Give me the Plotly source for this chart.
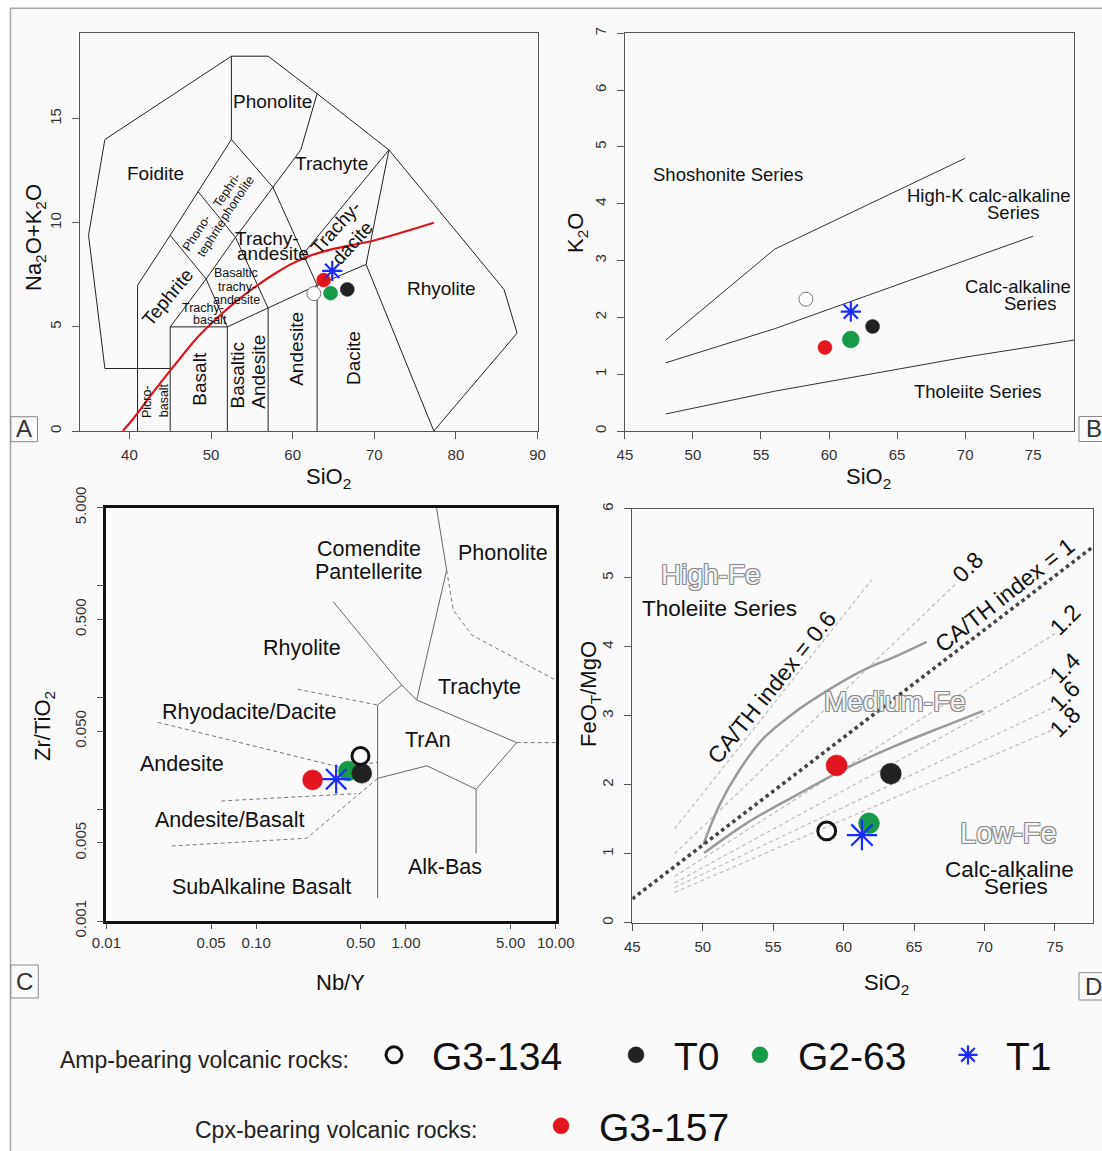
import numpy as np
import plotly.graph_objects as go

W, H = 1102, 1151
FONT = "Liberation Sans, Arial, Helvetica, sans-serif"

# ---------------- sample data ----------------
samples = ["G3-134", "T0", "G2-63", "T1", "G3-157"]
# A: TAS
tas_sio2 = [62.6, 66.7, 64.65, 64.85, 63.8]
tas_alk = [6.6, 6.8, 6.62, 7.69, 7.25]
# B: K2O vs SiO2
k2o_sio2 = [58.3, 63.2, 61.6, 61.6, 59.7]
k2o = [2.32, 1.84, 1.61, 2.10, 1.47]
# C: Zr/TiO2 vs Nb/Y
nb_y = [0.497, 0.507, 0.412, 0.342, 0.238]
zr_tio2 = [0.030, 0.0210, 0.0220, 0.0186, 0.0183]
# D: FeOT/MgO vs SiO2
fm_sio2 = [58.8, 63.35, 61.8, 61.3, 59.5]
feot_mgo = [1.33, 2.16, 1.44, 1.27, 2.28]

# ---------------- diagram boundaries ----------------
tas_lines = [
    [(45, 3), (37, 3), (35, 9.4), (37, 14), (52.5, 18), (57, 18), (63, 16.2), (71.8, 13.5),
     (85.9, 6.8), (87.5, 4.7), (77.3, 0)],
    [(41, 0), (41, 7), (45, 9.4), (48.4, 11.5), (52.5, 14), (52.5, 18)],
    [(45, 0), (45, 5), (52, 5), (52, 0)],
    [(52, 5), (57, 5.9), (63, 7), (69, 8), (77.3, 0)],
    [(57, 0), (57, 5.9)],
    [(63, 0), (63, 7)],
    [(45, 5), (49.4, 7.3), (53, 9.3), (57.6, 11.7), (61, 13.5), (63, 16.2)],
    [(45, 9.4), (49.4, 7.3), (52, 5)],
    [(48.4, 11.5), (53, 9.3), (57, 5.9)],
    [(52.5, 14), (57.6, 11.7), (63, 7)],
    [(69, 8), (71.8, 13.5)],
    [(61.3, 8.5), (71.8, 13.5)],
]
ib_sio2 = [39.2, 40.5, 43, 45, 48, 50, 53, 55.5, 58, 60, 62, 65, 70, 77.3]
ib_alk = [0, 0.6, 1.9, 2.9, 4.35, 5.15, 6.2, 6.95, 7.6, 8.05, 8.4, 8.75, 9.15, 10.0]

k_lines = [
    [(48, 1.6), (56, 3.2), (70, 4.8)],
    [(48, 1.2), (56, 1.8), (63, 2.4), (70, 3.0), (75, 3.43)],
    [(48, 0.3), (56, 0.7), (63, 1.0), (70, 1.3), (78, 1.6)],
]

wf_solid = [
    [(1.60, 5.0), (1.87, 1.38), (1.18, 0.095), (5.49, 0.0395), (2.94, 0.0151), (1.38, 0.0245), (0.647, 0.0189)],
    [(0.327, 0.721), (0.938, 0.129), (1.18, 0.095)],
    [(0.938, 0.129), (0.647, 0.0857), (0.647, 0.0016)],
    [(2.94, 0.0151), (2.94, 0.00404)],
]
wf_dashed = [
    [(0.0220, 0.060), (0.353, 0.0240), (0.647, 0.0263)],
    [(0.189, 0.1186), (0.647, 0.0857)],
    [(0.0585, 0.01186), (0.465, 0.0138)],
    [(0.647, 0.0189), (0.217, 0.0055), (0.0270, 0.00469)],
    [(1.87, 1.38), (2.07, 0.607), (2.75, 0.363), (10, 0.143)],
    [(5.49, 0.0395), (10, 0.0395)],
]

cath1 = [(45, 0.345), (78.1, 5.51)]
cath_other = [
    [(48, 1.36), (62, 4.97)],
    [(48, 1.0), (68, 4.92)],
    [(48, 0.67), (75, 4.19)],
    [(48, 0.575), (75, 3.59)],
    [(48, 0.51), (75, 3.13)],
    [(48, 0.44), (75, 2.81)],
]
medfe_up_x = [50.04, 51.2, 52.6, 54.3, 56.4, 58.5, 61.4, 63.7, 65.9]
medfe_up_y = [1.13, 1.71, 2.21, 2.67, 3.03, 3.32, 3.66, 3.86, 4.07]
medfe_lo_x = [50.1, 53.1, 56.65, 60.2, 63.75, 67.3, 69.9]
medfe_lo_y = [1.01, 1.44, 1.85, 2.24, 2.57, 2.86, 3.07]


def fx(p):
    return p / W


def fy(p):
    return 1 - p / H


def flat(lines):
    xs, ys = [], []
    for ln in lines:
        for a, b in ln:
            xs.append(a)
            ys.append(b)
        xs.append(None)
        ys.append(None)
    return xs, ys


fig = go.Figure()


def add_lines(lines, xa, ya, color, width, dash="solid"):
    xs, ys = flat(lines)
    fig.add_trace(go.Scatter(x=xs, y=ys, mode="lines", xaxis=xa, yaxis=ya,
                             line=dict(color=color, width=width, dash=dash),
                             showlegend=False, hoverinfo="skip"))


# panel A boundaries
add_lines(tas_lines, "x", "y", "#222", 1)
fig.add_trace(go.Scatter(x=ib_sio2, y=ib_alk, mode="lines", xaxis="x", yaxis="y",
                         line=dict(color="#e0141e", width=2.2, shape="spline", smoothing=0.6),
                         showlegend=False, hoverinfo="skip"))
# panel B
add_lines(k_lines, "x2", "y2", "#333", 1)
# panel C
add_lines(wf_solid, "x3", "y3", "#666", 1)
add_lines(wf_dashed, "x3", "y3", "#777", 1, "4px,3px")
# panel D
add_lines(cath_other, "x4", "y4", "#bdbdbd", 1.2, "4px,3px")
fig.add_trace(go.Scatter(x=medfe_up_x, y=medfe_up_y, mode="lines", xaxis="x4", yaxis="y4",
                         line=dict(color="#9a9a9a", width=2.5, shape="spline"),
                         showlegend=False, hoverinfo="skip"))
fig.add_trace(go.Scatter(x=medfe_lo_x, y=medfe_lo_y, mode="lines", xaxis="x4", yaxis="y4",
                         line=dict(color="#9a9a9a", width=2.5, shape="spline"),
                         showlegend=False, hoverinfo="skip"))
add_lines([cath1], "x4", "y4", "#444", 3.5, "dot")

# ---------------- sample markers ----------------
colors = {"G3-134": "white", "T0": "#222222", "G2-63": "#17994a", "T1": "#1a2cff", "G3-157": "#e3161f"}
legend_of = {"G3-134": "legend", "T0": "legend2", "G2-63": "legend3", "T1": "legend4", "G3-157": "legend5"}


def marker_for(name, size, panel):
    if name == "T1":
        return dict(symbol="asterisk-open", size=size * 1.2, color=colors[name],
                    line=dict(color=colors[name], width=2.2))
    if name == "G3-134":
        if panel in ("A", "B"):
            return dict(symbol="circle", size=size, color="white", line=dict(color="#777", width=1))
        return dict(symbol="circle-open", size=size * 0.85, color="#111", line=dict(color="#111", width=3))
    return dict(symbol="circle", size=size, color=colors[name], line=dict(color=colors[name], width=0.5))


panels = [
    ("A", "x", "y", tas_sio2, tas_alk, 14, ["G3-134", "G2-63", "T0", "G3-157", "T1"]),
    ("B", "x2", "y2", k2o_sio2, k2o, 14, ["G3-134", "T0", "G2-63", "T1", "G3-157"]),
    ("C", "x3", "y3", nb_y, zr_tio2, 20, ["G2-63", "T0", "G3-134", "T1", "G3-157"]),
    ("D", "x4", "y4", fm_sio2, feot_mgo, 21, ["G3-134", "T0", "G2-63", "T1", "G3-157"]),
]
for panel, xa, ya, xs, ys, size, order in panels:
    for name in order:
        i = samples.index(name)
        m = marker_for(name, size, panel)
        if panel == "B" and name == "G2-63":
            m["size"] = 17
        fig.add_trace(go.Scatter(
            x=[xs[i]], y=[ys[i]], mode="markers", xaxis=xa, yaxis=ya, marker=m,
            name=name, legendgroup=name, showlegend=(panel == "D"),
            legend=legend_of[name]))

# ---------------- axes ----------------
tickfont = dict(size=15, color="#333", family=FONT)
base = dict(showline=True, linecolor="#555", linewidth=1, mirror=True, ticks="outside",
            ticklen=7, tickcolor="#555", tickfont=tickfont, showgrid=False, zeroline=False,
            ticklabelstandoff=5, automargin=False)
xb = dict(base, ticklabelstandoff=3)

fig.update_layout(
    xaxis=dict(xb, domain=[fx(80.4), fx(537.5)], range=[34, 90], tickvals=[40, 50, 60, 70, 80, 90], anchor="y"),
    yaxis=dict(base, domain=[fy(431), fy(33.3)], range=[0, 19.1], tickvals=[0, 5, 10, 15], tickangle=-90, anchor="x"),
    xaxis2=dict(xb, domain=[fx(624.9), fx(1074)], range=[45, 78], tickvals=list(range(45, 80, 5)), anchor="y2"),
    yaxis2=dict(base, domain=[fy(431), fy(33.3)], range=[0, 7], tickvals=list(range(0, 8)), tickangle=-90, anchor="x2"),
    xaxis3=dict(xb, domain=[fx(106.4), fx(555.7)], type="log", range=[-2, 1],
                tickvals=[0.01, 0.05, 0.1, 0.5, 1, 5, 10],
                ticktext=["0.01", "0.05", "0.10", "0.50", "1.00", "5.00", "10.00"],
                linecolor="#111", linewidth=2.5, ticklen=5, ticklabelstandoff=1, anchor="y3"),
    yaxis3=dict(base, domain=[fy(921), fy(507.7)], type="log", range=[-3, float(np.log10(5))],
                tickvals=[0.001, 0.005, 0.05, 0.5, 5],
                ticktext=["0.001", "0.005", "0.050", "0.500", "5.000"],
                minor=dict(tickvals=[0.01, 0.1, 1], ticks="outside", ticklen=7, tickcolor="#555"),
                tickangle=-90, linecolor="#111", linewidth=2.5, anchor="x3"),
    xaxis4=dict(xb, domain=[fx(632.3), fx(1093)], range=[45, 77.7], tickvals=list(range(45, 80, 5)), anchor="y4"),
    yaxis4=dict(base, domain=[fy(922.7), fy(508.7)], range=[0, 6], tickvals=list(range(0, 7)), tickangle=-90, anchor="x4"),
)

# ---------------- annotations ----------------
anns = []


def ann(x, y, text, xref="paper", yref="paper", size=19, angle=0, color="#111", shadow=None):
    f = dict(size=size, color=color, family=FONT)
    if shadow:
        f["shadow"] = shadow
    anns.append(dict(x=x, y=y, xref=xref, yref=yref, text=text, showarrow=False,
                     textangle=angle, font=f, xanchor="center", yanchor="middle"))


# axis titles
ann(fx(35), fy(238), "Na<sub>2</sub>O+K<sub>2</sub>O", size=22, angle=-90)
ann(fx(328), fy(478), "SiO<sub>2</sub>", size=22)
ann(fx(577), fy(233), "K<sub>2</sub>O", size=22, angle=-90)
ann(fx(868), fy(478), "SiO<sub>2</sub>", size=22)
ann(fx(44), fy(726), "Zr/TiO<sub>2</sub>", size=22, angle=-90)
ann(fx(340), fy(982), "Nb/Y", size=22)
ann(fx(590), fy(694), "FeO<sub>T</sub>/MgO", size=22, angle=-90)
ann(fx(886), fy(984), "SiO<sub>2</sub>", size=22)

# panel A labels
for x, y, t, s, a in [
    (57.49, 15.83, "Phonolite", 19, 0), (43.2, 12.39, "Foidite", 19, 0), (64.79, 12.85, "Trachyte", 19, 0),
    (52.0, 11.56, "Tephri-", 12.5, -56), (53.23, 11.17, "phonolite", 12.5, -56),
    (48.26, 9.49, "Phono-", 12.5, -57), (50.09, 9.25, "tephrite", 12.5, -57),
    (56.83, 9.25, "Trachy-", 19, 0), (57.64, 8.53, "andesite", 19, 0),
    (65.28, 9.77, "Trachy-", 19, -48), (67.36, 9.04, "dacite", 19, -48),
    (53.03, 7.57, "Basaltic", 12.5, 0), (53.16, 6.92, "trachy-", 12.5, 0), (53.16, 6.29, "andesite", 12.5, 0),
    (49.06, 5.89, "Trachy-", 12.5, 0), (49.88, 5.33, "basalt", 12.5, 0),
    (44.78, 6.44, "Tephrite", 19, -50),
    (42.09, 1.41, "Picro-", 12.5, -90), (44.2, 1.46, "basalt", 12.5, -90),
    (48.57, 2.53, "Basalt", 19, -90), (53.25, 2.69, "Basaltic", 19, -90), (55.89, 2.85, "Andesite", 19, -90),
    (60.47, 3.97, "Andesite", 19, -90), (67.47, 3.49, "Dacite", 19, -90), (78.28, 6.83, "Rhyolite", 19, 0),
]:
    ann(x, y, t, "x", "y", s, a)

# panel B labels
for x, y, t in [(52.58, 4.51, "Shoshonite Series"), (71.69, 4.14, "High-K calc-alkaline"),
                (73.53, 3.85, "Series"), (73.9, 2.55, "Calc-alkaline"), (74.74, 2.25, "Series"),
                (70.95, 0.70, "Tholeiite Series")]:
    ann(x, y, t, "x2", "y2", 18.5)

# panel C labels (log coordinates)
for lx, ly, t in [(-0.245, 0.330, "Comendite"), (-0.245, 0.126, "Pantellerite"), (0.650, 0.291, "Phonolite"),
                  (-0.697, -0.559, "Rhyolite"), (0.491, -0.903, "Trachyte"),
                  (-1.045, -1.132, "Rhyodacite/Dacite"), (0.147, -1.380, "TrAn"),
                  (-1.497, -1.595, "Andesite"), (-1.177, -2.096, "Andesite/Basalt"),
                  (0.259, -2.519, "Alk-Bas"), (-0.965, -2.698, "SubAlkaline Basalt")]:
    ann(lx, ly, t, "x3", "y3", 21.5)

# panel D labels
outline = "-1px -1px 0 #8a8a8a, 1px -1px 0 #8a8a8a, -1px 1px 0 #8a8a8a, 1px 1px 0 #8a8a8a"
ann(50.56, 5.04, "High-Fe", "x4", "y4", 28, 0, "#f2f2f2", outline)
ann(63.63, 3.20, "Medium-Fe", "x4", "y4", 28, 0, "#f2f2f2", outline)
ann(71.72, 1.30, "Low-Fe", "x4", "y4", 29, 0, "#f2f2f2", outline)
ann(51.22, 4.56, "Tholeiite Series", "x4", "y4", 22.5)
ann(71.79, 0.77, "Calc-alkaline", "x4", "y4", 22.5)
ann(72.26, 0.52, "Series", "x4", "y4", 22.5)
ann(54.89, 3.42, "CA/TH index = 0.6", "x4", "y4", 23, -51)
ann(71.43, 4.75, "CA/TH index = 1", "x4", "y4", 23, -38)
ann(68.83, 5.15, "0.8", "x4", "y4", 23, -45)
for yv, t in [(4.39, "1.2"), (3.69, "1.4"), (3.28, "1.6"), (2.91, "1.8")]:
    ann(75.69, yv, t, "x4", "y4", 23, -45)

# panel letters
for t, cx, cy in [("A", 24, 429), ("B", 1094, 429), ("C", 24.5, 981), ("D", 1093, 986)]:
    ann(fx(cx), fy(cy), t, size=24, color="#333")

# legend row labels
ann(fx(204), fy(1060), "Amp-bearing volcanic rocks:", size=23, color="#222")
ann(fx(336), fy(1130), "Cpx-bearing volcanic rocks:", size=23, color="#222")

shapes = [
    dict(type="rect", xref="paper", yref="paper", x0=fx(10.5), y0=fy(1160), x1=fx(1110), y1=fy(8.3),
         line=dict(color="#a8a8a8", width=1.5), fillcolor="#fafafa", layer="below"),
]
for x0, y0, x1, y1 in [(10.7, 416.7, 37.5, 441.7), (1079, 416.5, 1110, 441.5),
                       (10.7, 965, 38.3, 998), (1079, 972.7, 1110, 1000)]:
    shapes.append(dict(type="rect", xref="paper", yref="paper", x0=fx(x0), y0=fy(y1), x1=fx(x1), y1=fy(y0),
                       line=dict(color="#8a8a8a", width=1), fillcolor="rgba(0,0,0,0)", layer="above"))


def leg(cx, cy):
    # symbol centre sits itemwidth/2 + 5 px right of the legend's left edge
    return dict(orientation="h", x=fx(cx - 38), y=fy(cy), xanchor="left", yanchor="middle",
                font=dict(size=39, color="#111", family=FONT), itemwidth=66,
                bgcolor="rgba(0,0,0,0)", borderwidth=0)


fig.update_layout(
    width=W, height=H, margin=dict(l=0, r=0, t=0, b=0, autoexpand=False),
    paper_bgcolor="white", plot_bgcolor="rgba(0,0,0,0)",
    font=dict(family=FONT, color="#111"),
    annotations=anns, shapes=shapes,
    legend=leg(394, 1055), legend2=leg(636, 1055), legend3=leg(760, 1055),
    legend4=leg(968, 1055), legend5=leg(561, 1126),
)

fig.write_html("out.html", config={"displayModeBar": False},
               post_script="document.body.style.margin='0';")
